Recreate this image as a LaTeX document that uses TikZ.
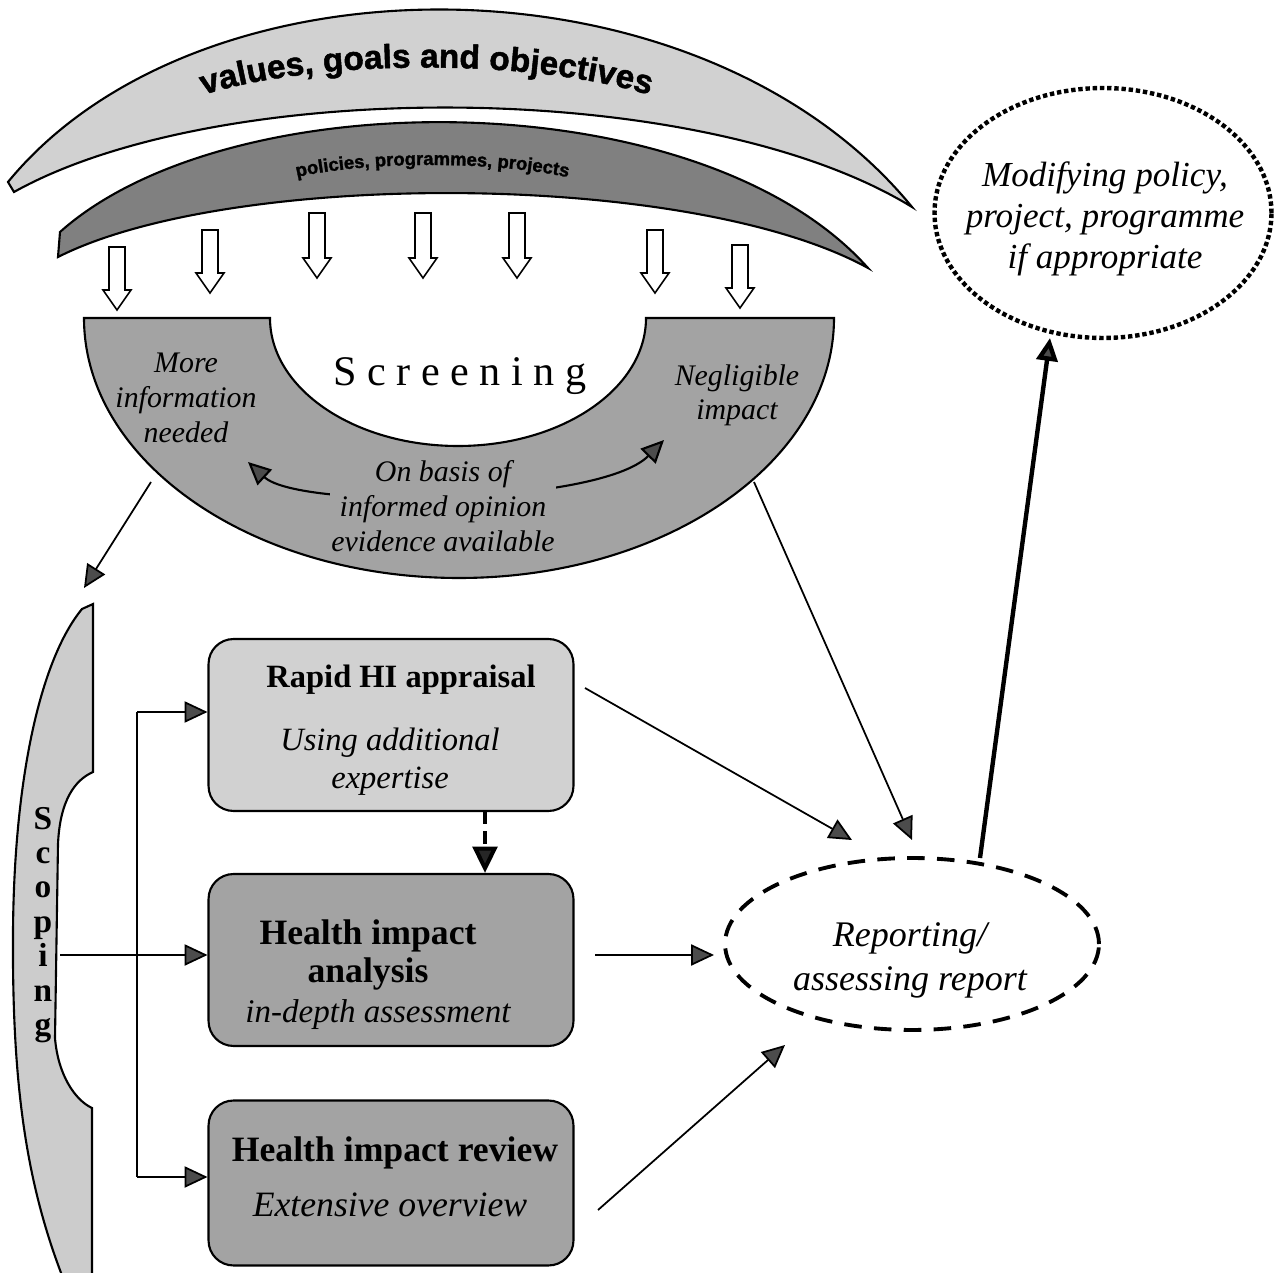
\documentclass[tikz,border=0pt]{standalone}
\usepackage{fontspec}
\setmainfont{Liberation Serif}
\newfontfamily\sansfam[BoldFeatures={FakeBold=1.5}]{Liberation Sans}
\newfontfamily\spacedfam[LetterSpace=25]{Liberation Serif}
\usetikzlibrary{arrows.meta,shapes.geometric,decorations.text}
\definecolor{lightarc}{gray}{0.82}
\definecolor{darkarc}{gray}{0.5}
\definecolor{scrfill}{gray}{0.64}
\definecolor{scopfill}{gray}{0.8}
\definecolor{rapidfill}{gray}{0.82}
\definecolor{hifill}{gray}{0.64}
\definecolor{tipfill}{gray}{0.3}
\tikzset{
  >={Triangle[length=13pt,width=12pt,fill=tipfill]},
  conn/.style={draw,line width=1pt,->},
  hibox/.style={draw,line width=1.2pt,rounded corners=0.5cm,minimum width=7.3cm,inner sep=0pt},
  hollow/.style={draw,line width=0.9pt,fill=white},
  band/.style={draw,line width=1.2pt},
  lbl/.style={inner sep=1pt},
}
\begin{document}
\begin{tikzpicture}[x=0.02cm,y=-0.02cm]
\useasboundingbox (0,0) rectangle (1282,1273);
\fill[white] (0,0) rectangle (1282,1273);

% light band
\path[band,fill=lightarc] (8,182) .. controls (200,-52) and (700,-52) .. (912,207) .. controls (700,77) and (220,77) .. (14,192) -- cycle;
\path[decorate,decoration={text along path,text align=center,text={|\sansfam\bfseries\fontsize{19}{19}\selectfont|values, goals and objectives}}] (183,102) .. controls (300,56) and (550,56) .. (670,102);

% dark band
\path[band,fill=darkarc] (60,232) .. controls (230,80) and (700,80) .. (868,268) .. controls (690,170) and (230,170) .. (58,257) -- cycle;
\path[decorate,decoration={text along path,text align=center,text={|\sansfam\bfseries\fontsize{10.5}{10.5}\selectfont|policies, programmes, projects}}] (285,180) .. controls (360,160) and (500,160) .. (580,180);

% hollow arrows
\foreach \x/\t/\b in {117/247/310,210/230/293,317/213/278,423/213/278,517/213/278,655/230/293,740/245/308}
  \path[hollow] (\x-8,\t) -- (\x+8,\t) -- (\x+8,\b-20) -- (\x+14,\b-20) -- (\x,\b) -- (\x-14,\b-20) -- (\x-8,\b-20) -- cycle;

% screening
\path[band,fill=scrfill] (84,318) -- (270,318) arc[start angle=180,end angle=0,x radius=188,y radius=128] -- (834,318) arc[start angle=0,end angle=180,x radius=375,y radius=260] -- cycle;
\node[lbl,align=center,font=\itshape\fontsize{17}{20}\selectfont] (more) at (186,398) {More\\information\\needed};
\node[lbl,font=\spacedfam\fontsize{24}{24}\selectfont] (scrT) at (460,376) {Screening};
\node[lbl,align=center,font=\itshape\fontsize{17}{19.3}\selectfont] (neg) at (737,395) {Negligible\\impact};
\draw[line width=1.2pt,<->] (248,462) .. controls (300,510) and (600,505) .. (664,440);
\node[lbl,fill=scrfill,align=center,font=\itshape\fontsize{17}{20}\selectfont] (basis) at (443,506) {On basis of\\informed opinion\\evidence available};

% scoping
\path[band,fill=scopfill] (93,604) -- (93,772) .. controls (75,780) and (60,800) .. (58,844) -- (55,1038) .. controls (58,1075) and (75,1100) .. (92,1108) -- (92,1278) -- (63,1278) .. controls (25,1180) and (12,1080) .. (13,932) .. controls (14,780) and (40,660) .. (82,609) -- cycle;
\node[lbl,align=center,font=\bfseries\fontsize{19}{19.6}\selectfont] (scopT) at (43,925) {S\\c\\o\\p\\i\\n\\g};

% boxes
\node[hibox,fill=rapidfill,minimum height=3.44cm] (rapid) at (391,725) {};
\node[hibox,fill=hifill,minimum height=3.44cm] (anal) at (391,960) {};
\node[hibox,fill=hifill,minimum height=3.3cm] (rev) at (391,1183) {};
\node[lbl,font=\bfseries\fontsize{18.5}{22}\selectfont] (rapidT) at (401,680) {Rapid HI appraisal};
\node[lbl,align=center,font=\itshape\fontsize{18.5}{21.5}\selectfont] (rapidS) at (390,762) {Using additional\\expertise};
\node[lbl,align=center,font=\bfseries\fontsize{20.3}{21.5}\selectfont] (analT) at (368,955) {Health impact\\analysis};
\node[lbl,font=\itshape\fontsize{18.8}{22}\selectfont] (analS) at (378,1015) {in-depth assessment};
\node[lbl,font=\bfseries\fontsize{20.3}{22}\selectfont] (revT) at (395,1153) {Health impact review};
\node[lbl,font=\itshape\fontsize{20.3}{22}\selectfont] (revS) at (390,1205) {Extensive overview};

% ellipses
\node[ellipse,draw,line width=2.2pt,dash pattern=on 10pt off 7pt,minimum width=7.48cm,minimum height=3.44cm,inner sep=0pt] (rep) at (912,944) {};
\node[lbl,align=center,font=\itshape\fontsize{20.5}{25}\selectfont] (repT) at (910,960) {Reporting/\\assessing report};
\node[ellipse,draw,line width=2.5pt,dash pattern=on 2.5pt off 1.6pt,minimum width=6.74cm,minimum height=5cm,inner sep=0pt] (mod) at (1103,213) {};
\node[lbl,align=center,font=\itshape\fontsize{20}{23.3}\selectfont] (modT) at (1105,219) {Modifying policy,\\project, programme\\if appropriate};

% connectors
\coordinate (scrL) at (151,482);
\coordinate (scopIn) at (84,588);
\draw[conn] (scrL) -- (scopIn);
\coordinate (scrR) at (754,482);
\coordinate (repIn1) at (912,840);
\draw[conn] (scrR) -- (repIn1);
\coordinate (rapOut) at (585,688);
\coordinate (repIn2) at (852,840);
\draw[conn] (rapOut) -- (repIn2);
\coordinate (anOut) at (595,955);
\coordinate (repIn3) at (714,955);
\draw[conn] (anOut) -- (repIn3);
\coordinate (rvOut) at (598,1210);
\coordinate (repIn4) at (785,1045);
\draw[conn] (rvOut) -- (repIn4);
\coordinate (repOut) at (980,858);
\coordinate (modIn) at (1050,338);
\draw[->,line width=2.5pt] (repOut) -- (modIn);

\coordinate (scopOut) at (60,955);
\draw[conn] (scopOut) -- (scopOut -| anal.west);
\coordinate (busTop) at (137,712);
\coordinate (busBot) at (137,1177);
\draw[line width=1pt] (busTop) -- (busBot);
\draw[conn] (busTop) -- (busTop -| rapid.west);
\draw[conn] (busBot) -- (busBot -| rev.west);
\coordinate (dx) at (485,0);
\draw[line width=2.3pt,dash pattern=on 7pt off 4pt,-{Triangle[length=15pt,width=14pt,fill=black!85]}] (rapid.south -| dx) -- (anal.north -| dx);
\end{tikzpicture}
\end{document}
